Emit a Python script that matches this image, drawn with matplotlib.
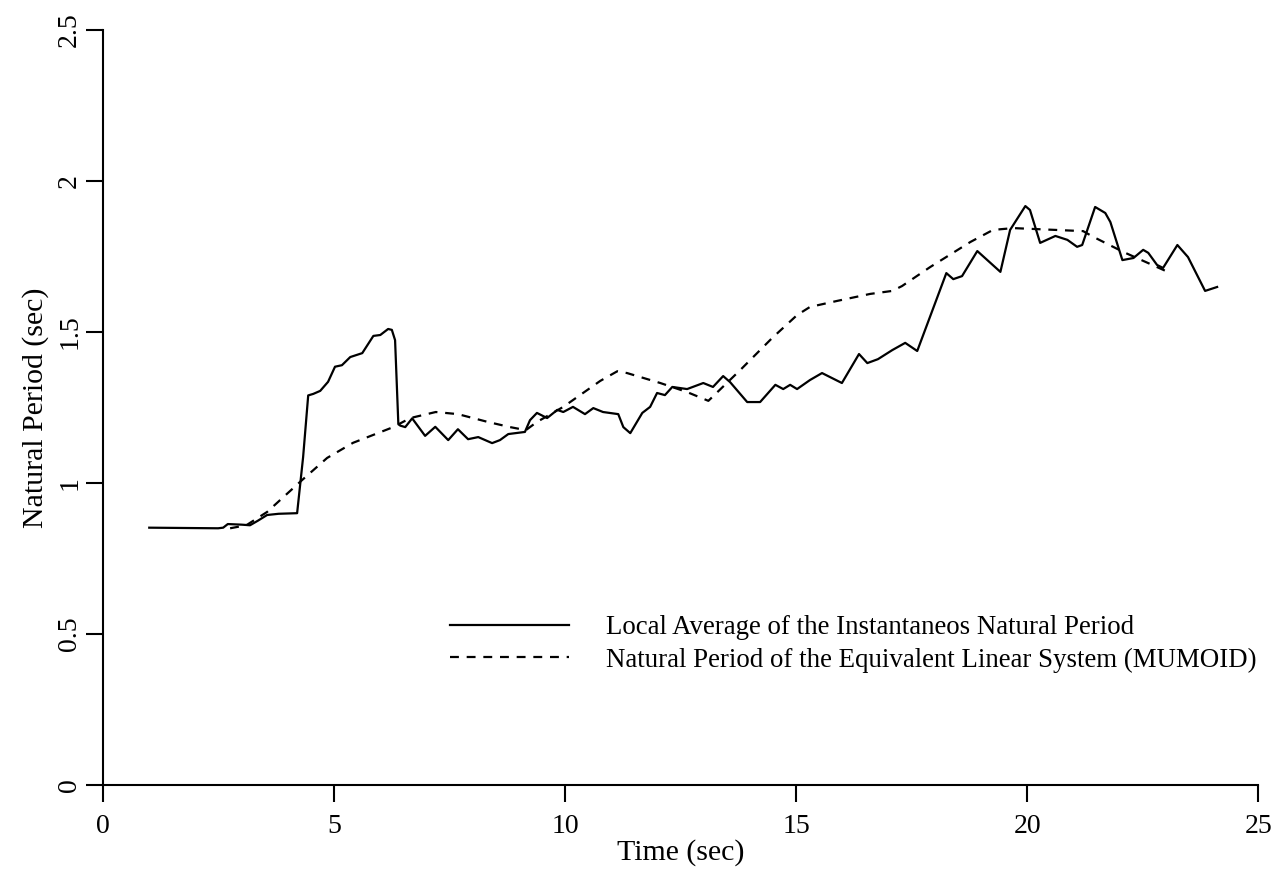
import numpy as np
import matplotlib
matplotlib.use('Agg')
import matplotlib.pyplot as plt

plt.rcParams['font.family'] = ['Liberation Serif', 'DejaVu Serif']

# local average of the instantaneous natural period (solid)
t_local = [1.0, 2.49, 2.6, 2.7, 3.0, 3.18, 3.35, 3.55, 3.8, 4.2, 4.33, 4.44, 4.55,
           4.70, 4.87, 5.02, 5.17, 5.35, 5.61, 5.85, 6.0, 6.17, 6.25, 6.32, 6.39,
           6.43, 6.54, 6.69, 6.97, 7.19, 7.47, 7.68, 7.90, 8.12, 8.42, 8.59, 8.77,
           9.13, 9.24, 9.39, 9.61, 9.83, 9.96, 10.17, 10.43, 10.61, 10.82, 11.15,
           11.26, 11.41, 11.67, 11.84, 11.99, 12.16, 12.32, 12.64, 12.99, 13.20,
           13.42, 13.57, 13.94, 14.22, 14.55, 14.72, 14.87, 15.02, 15.30, 15.56,
           15.99, 16.36, 16.54, 16.77, 17.08, 17.36, 17.62, 18.25, 18.40, 18.59,
           18.92, 19.42, 19.63, 19.96, 20.06, 20.28, 20.61, 20.87, 21.08, 21.19,
           21.47, 21.69, 21.80, 22.06, 22.30, 22.51, 22.62, 22.81, 22.94, 23.25,
           23.48, 23.85, 24.11]
p_local = [0.852, 0.85, 0.852, 0.864, 0.862, 0.86, 0.875, 0.894, 0.898, 0.90,
           1.086, 1.29, 1.295, 1.305, 1.335, 1.385, 1.39, 1.417, 1.43, 1.487, 1.49,
           1.51, 1.507, 1.473, 1.198, 1.19, 1.185, 1.214, 1.156, 1.186, 1.142,
           1.178, 1.145, 1.152, 1.132, 1.142, 1.162, 1.169, 1.208, 1.232, 1.215,
           1.242, 1.235, 1.252, 1.228, 1.248, 1.235, 1.228, 1.185, 1.165, 1.232,
           1.252, 1.298, 1.291, 1.318, 1.311, 1.331, 1.318, 1.354, 1.334, 1.268,
           1.268, 1.325, 1.311, 1.325, 1.311, 1.341, 1.364, 1.331, 1.427, 1.397,
           1.41, 1.44, 1.464, 1.437, 1.695, 1.675, 1.685, 1.768, 1.699, 1.838,
           1.917, 1.904, 1.795, 1.818, 1.805, 1.782, 1.788, 1.914, 1.894, 1.864,
           1.738, 1.745, 1.772, 1.762, 1.722, 1.712, 1.788, 1.748, 1.636, 1.649]

# equivalent linear system (MUMOID) (dashed)
t_equiv = [2.75, 3.1, 3.55, 4.31, 4.85, 5.41, 6.28, 6.65, 7.2, 7.68, 8.33, 8.81,
           9.15, 9.39, 9.96, 10.76, 11.13, 11.34, 12.06, 12.64, 13.1, 13.79, 14.48,
           15.02, 15.30, 15.89, 16.60, 17.08, 17.29, 17.90, 18.77, 19.26, 19.70,
           21.21, 21.43, 22.08, 22.62, 23.10]
p_equiv = [0.85, 0.86, 0.904, 1.01, 1.083, 1.133, 1.185, 1.215, 1.235, 1.228,
           1.202, 1.185, 1.175, 1.202, 1.252, 1.338, 1.37, 1.364, 1.331, 1.301,
           1.272, 1.374, 1.48, 1.556, 1.583, 1.603, 1.626, 1.636, 1.652, 1.715,
           1.798, 1.838, 1.844, 1.834, 1.815, 1.765, 1.728, 1.695]

x_ticks = [0, 5, 10, 15, 20, 25]
y_ticks = [0, 0.5, 1, 1.5, 2, 2.5]
y_tick_labels = ['0', '0.5', '1', '1.5', '2', '2.5']

fig = plt.figure(figsize=(12.8, 8.82), dpi=100)
ax = fig.add_axes([0.0805, 0.110, 0.9025, 0.856])

ax.plot(t_local, p_local, color='black', lw=1.6,
        label='Local Average of the Instantaneos Natural Period')
ax.plot(t_equiv, p_equiv, color='black', lw=1.6, linestyle=(0, (4, 3.5)),
        label='Natural Period of the Equivalent Linear System (MUMOID)')

ax.set_xlim(0, 25)
ax.set_ylim(0, 2.5)
ax.set_xticks(x_ticks)
ax.set_yticks(y_ticks)
ax.set_yticklabels(y_tick_labels, rotation=90, va='center')

for side in ['top', 'right']:
    ax.spines[side].set_visible(False)
for side in ['left', 'bottom']:
    ax.spines[side].set_linewidth(1.5)

ax.tick_params(direction='out', length=12, width=1.5, labelsize=20)
ax.tick_params(axis='x', pad=9)
ax.tick_params(axis='y', pad=3)

ax.set_xlabel('Time (sec)', fontsize=21.5, labelpad=0)
ax.set_ylabel('Natural Period (sec)', fontsize=21.5, labelpad=6)

ax.legend(loc='center left', bbox_to_anchor=(0.3004, 0.1868), frameon=False,
          fontsize=19.4, handlelength=4.4, handletextpad=1.4, labelspacing=0.28,
          borderpad=0, borderaxespad=0)

fig.savefig('out.png', dpi=100)
